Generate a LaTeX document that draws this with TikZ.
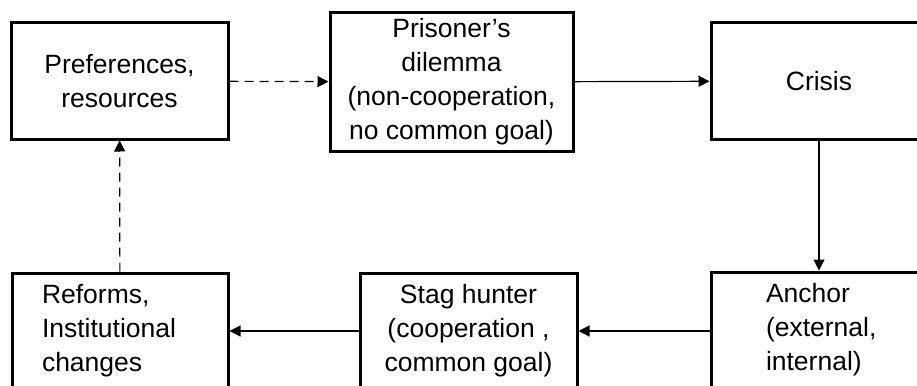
\documentclass[tikz,border=0pt]{standalone}
\usepackage{fontspec}
\setmainfont{Liberation Sans}
\usetikzlibrary{
    arrows.meta,
    positioning
}

\begin{document}
\begin{tikzpicture}[x=1pt, y=-1pt,
        box/.style={draw, line width=3pt, minimum width=217pt, minimum height=116pt,
            inner sep=0pt, font=\fontsize{26.5}{34}\selectfont},
        link/.style={line width=1.2pt, -{Triangle[length=11pt, width=11pt]}},
        weak/.style={link, dash pattern=on 9pt off 6pt}]
                        \clip (0, 0) rectangle (917, 385);
                        \node[box, align=center] (pref) at (119.5, 81) {Preferences,\\resources};
                        \node[box, align=center, minimum width=243pt, minimum height=138pt] (pd) at (451.5, 82) {Prisoner’s\\dilemma\\(non-cooperation,\\no common goal)};
                        \node[box, align=center, minimum width=216pt] (crisis) at (819, 81) {Crisis};
                        \node[box, align=left, text width=156pt, minimum width=216pt] (reform) at (120, 331) {Reforms,\\Institutional\\changes};
                        \node[box, align=center] (stag) at (468.5, 331) {Stag hunter\\(cooperation ,\\common goal)};
                        \node[box, align=left, text width=106pt, minimum width=216pt] (anchor) at (819, 330) {Anchor\\(external,\\internal)};
                        \draw
                        (pref) edge[weak] (pd)
                        (pd) edge[link] (crisis)
                        (crisis) edge[link] (anchor)
                        (anchor.west |- stag.east) edge[link] (stag.east)
                        (stag) edge[link] (reform)
                        (reform) edge[weak] (pref);
                    \end{tikzpicture}
\end{document}
